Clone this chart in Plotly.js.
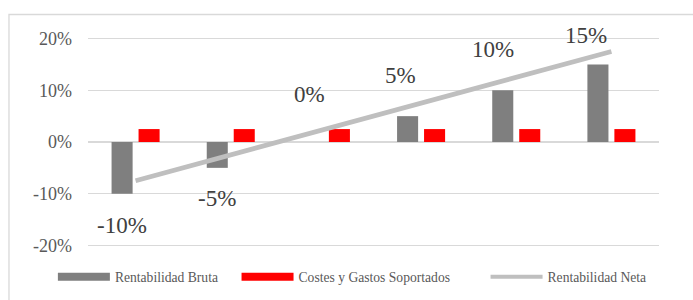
<!DOCTYPE html>
<html>
<head>
<meta charset="utf-8">
<script src="https://cdn.plot.ly/plotly-3.0.1.min.js"></script>
<style>html,body{margin:0;padding:0;background:#fff}#chart{width:693px;height:300px}</style>
</head>
<body>
<div id="chart"></div>
<script>
const categories = ["P1", "P2", "P3", "P4", "P5", "P6"];
const rentabilidadBruta = [-10, -5, 0, 5, 10, 15];
const costesGastos = [2.5, 2.5, 2.5, 2.5, 2.5, 2.5];
const rentabilidadNeta = [-7.5, -2.5, 2.5, 7.5, 12.5, 17.5];
const seriesNames = ["Rentabilidad Bruta", "Costes y Gastos Soportados", "Rentabilidad Neta"];
const yTicks = [-20, -10, 0, 10, 20];
const yTickLabels = ["-20%", "-10%", "0%", "10%", "20%"];

const serif = "Liberation Serif";
const colors = ["#7F7F7F", "#FF0000", "#BFBFBF"];

// label offsets in pixels (styling)
const labelXShift = [-13.5, -13.5, -16, -21, -23, -25];
const labelYShift = [-31.5, -31, 47.5, 41, 41, 28.5];
// extra legend spacing (styling)
const legendPad = ["\u00a0\u00a0\u00a0\u00a0", "\u00a0\u00a0\u00a0\u00a0\u00a0\u00a0\u00a0\u00a0\u00a0", ""];

const traces = [
  {type: "bar", x: categories, y: rentabilidadBruta, name: seriesNames[0],
   marker: {color: colors[0]}, showlegend: false, hoverinfo: "skip"},
  {type: "bar", x: categories, y: costesGastos, name: seriesNames[1],
   marker: {color: colors[1]}, showlegend: false, hoverinfo: "skip"},
  {type: "scatter", mode: "lines", x: categories, y: rentabilidadNeta, name: seriesNames[2],
   line: {color: colors[2], width: 4.8, shape: "linear"}, showlegend: false, hoverinfo: "skip"},
  // legend entries
  {type: "scatter", mode: "lines", x: [categories[0]], y: [null], name: seriesNames[0] + legendPad[0],
   line: {color: colors[0], width: 8}},
  {type: "scatter", mode: "lines", x: [categories[0]], y: [null], name: seriesNames[1] + legendPad[1],
   line: {color: colors[1], width: 8}},
  {type: "scatter", mode: "lines", x: [categories[0]], y: [null], name: seriesNames[2] + legendPad[2],
   line: {color: colors[2], width: 4}}
];

const annotations = categories.map((c, i) => ({
  x: c, y: rentabilidadBruta[i], xref: "x", yref: "y",
  text: rentabilidadBruta[i] + "%", showarrow: false,
  xshift: labelXShift[i], yshift: labelYShift[i],
  font: {family: serif, size: 23, color: "#404040"}
}));

const layout = {
  width: 693, height: 300,
  margin: {l: 88, r: 34, t: 36.4, b: 52.4, autoexpand: false},
  paper_bgcolor: "#fff", plot_bgcolor: "#fff",
  font: {family: serif, color: "#595959"},
  barmode: "group", bargap: 0.433, bargroupgap: 0.22,
  xaxis: {type: "category", categoryarray: categories, categoryorder: "array",
          range: [-0.5, 5.5], showticklabels: false, showgrid: false, zeroline: false,
          showline: false, ticks: "", fixedrange: true},
  yaxis: {range: [-20.5, 20.5], tickvals: yTicks, ticktext: yTickLabels,
          showgrid: true, gridcolor: "#D9D9D9", gridwidth: 1.3, zeroline: false,
          showline: false, ticks: "", ticklabelstandoff: 15,
          tickfont: {family: serif, size: 18, color: "#595959"}, fixedrange: true},
  showlegend: true,
  legend: {orientation: "h", x: -0.0615, xanchor: "left", y: -0.136, yanchor: "middle",
           itemwidth: 52, font: {family: serif, size: 13.6, color: "#595959"},
           bgcolor: "rgba(0,0,0,0)", traceorder: "normal"},
  annotations: annotations,
  shapes: [{type: "rect", xref: "paper", yref: "paper", x0: -0.1384, x1: 1.3, y0: -0.6, y1: 1.1013,
            line: {color: "#D9D9D9", width: 1.3}, layer: "below"}]
};

Plotly.newPlot("chart", traces, layout, {staticPlot: true, displayModeBar: false});
</script>
</body>
</html>
